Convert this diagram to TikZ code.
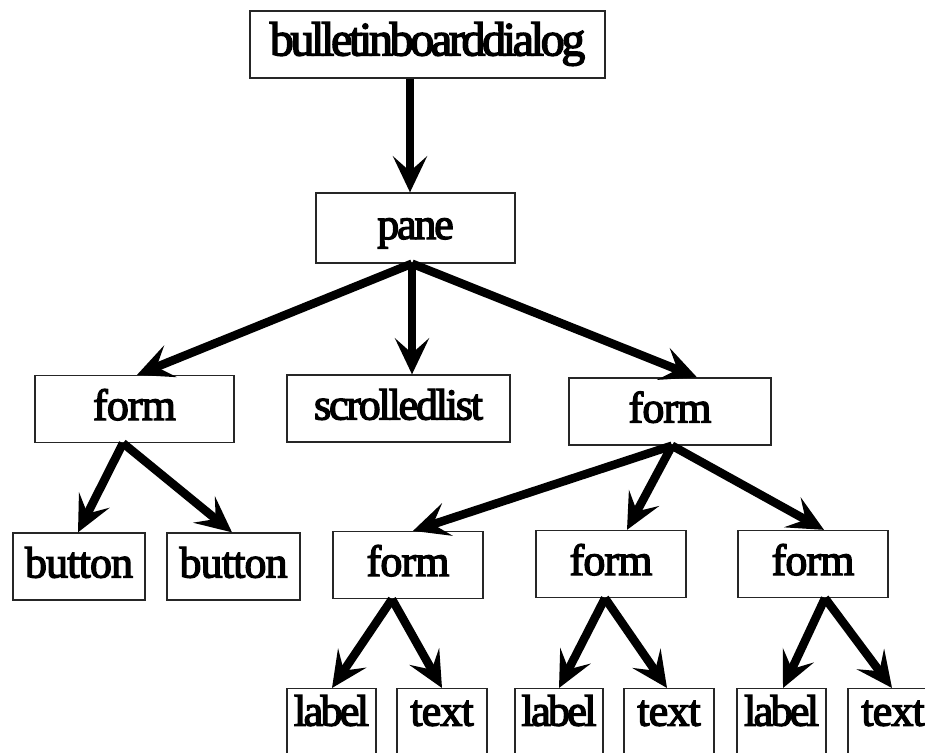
\documentclass[tikz,border=0pt]{standalone}
\usepackage{fontspec}
\newfontfamily\boxfont{Liberation Serif}[FakeBold=3]
\usetikzlibrary{arrows.meta}
% tightened letter spacing for a tracked label
\newcommand{\trk}[2]{{\addfontfeature{LetterSpace=#1}#2}}
\tikzset{
  treebox/.style={draw=black!85, line width=1.3pt, rectangle, inner xsep=0pt,
    inner ysep=12.5pt, text height=32pt, text depth=10pt,
    font=\boxfont\fontsize{44}{50}\selectfont, anchor=center},
  leafbox/.style={treebox, anchor=north, inner ysep=5pt, text depth=80pt},
  link/.style={line width=8.5pt, -{Stealth[length=36pt,width=34pt,inset=15pt]}}
}
\begin{document}
\begin{tikzpicture}[x=1pt, y=-1pt]
\useasboundingbox (0,0) rectangle (925,752);
\clip (0,0) rectangle (925,752);

% tree levels
\node[treebox, minimum width=355pt, font=\boxfont\fontsize{48}{56}\selectfont]
  (bbd) at (427.5,44.5) {\trk{-7}{bulletinboarddialog}};
\node[treebox, minimum width=199pt, inner ysep=14pt] (pane) at (415.5,228) {\trk{-5}{pane}};

\node[treebox, minimum width=199pt] (formL) at (134.5,409) {\trk{-2}{form}};
\node[treebox, minimum width=223pt] (scroll) at (398.5,408.5) {\trk{-5}{scrolledlist}};
\node[treebox, minimum width=202pt] (formR) at (670,411.5) {\trk{-2}{form}};

\node[treebox, minimum width=132pt] (btnA) at (79,566.5) {\trk{-2}{button}};
\node[treebox, minimum width=133pt] (btnB) at (233.5,566.5) {\trk{-2}{button}};
\node[treebox, minimum width=150pt] (fA) at (408,565) {\trk{-2}{form}};
\node[treebox, minimum width=150pt] (fB) at (611,564) {\trk{-2}{form}};
\node[treebox, minimum width=150pt] (fC) at (813,564) {\trk{-2}{form}};

\node[leafbox, minimum width=89pt] (lA) at (331.5,688) {\trk{-6}{label}};
\node[leafbox, minimum width=90pt] (tA) at (442,688) {\trk{-2}{text}};
\node[leafbox, minimum width=88pt] (lB) at (559,688) {\trk{-6}{label}};
\node[leafbox, minimum width=90pt] (tB) at (669,688) {\trk{-2}{text}};
\node[leafbox, minimum width=89pt] (lC) at (781.5,688) {\trk{-6}{label}};
\node[leafbox, minimum width=90pt] (tC) at (893,688) {\trk{-2}{text}};

% connectors
\draw[link] ([xshift=-17.5pt]bbd.south) -- ([xshift=-5.5pt]pane.north);

\draw[link] ([xshift=-3.5pt]pane.south) -- ([xshift=2.5pt]formL.north);
\draw[link] ([xshift=-3.5pt]pane.south) -- ([xshift=13.5pt]scroll.north);
\draw[link] ([xshift=-3.5pt]pane.south) -- ([xshift=27pt]formR.north);

\draw[link] ([xshift=-11.5pt]formL.south) -- ([xshift=-1pt]btnA.north);
\draw[link] ([xshift=-11.5pt]formL.south) -- ([xshift=-1.5pt]btnB.north);

\draw[link] ([xshift=2pt]formR.south) -- ([xshift=5pt]fA.north);
\draw[link] ([xshift=2pt]formR.south) -- ([xshift=16pt]fB.north);
\draw[link] ([xshift=2pt]formR.south) -- ([xshift=11pt]fC.north);

\draw[link] ([xshift=-16pt]fA.south) -- ([xshift=0.5pt]lA.north);
\draw[link] ([xshift=-16pt]fA.south) -- (tA.north);
\draw[link] ([xshift=-6pt]fB.south) -- (lB.north);
\draw[link] ([xshift=-6pt]fB.south) -- ([xshift=-2pt]tB.north);
\draw[link] ([xshift=12pt]fC.south) -- ([xshift=1.5pt]lC.north);
\draw[link] ([xshift=12pt]fC.south) -- ([xshift=-1pt]tC.north);
\end{tikzpicture}
\end{document}
